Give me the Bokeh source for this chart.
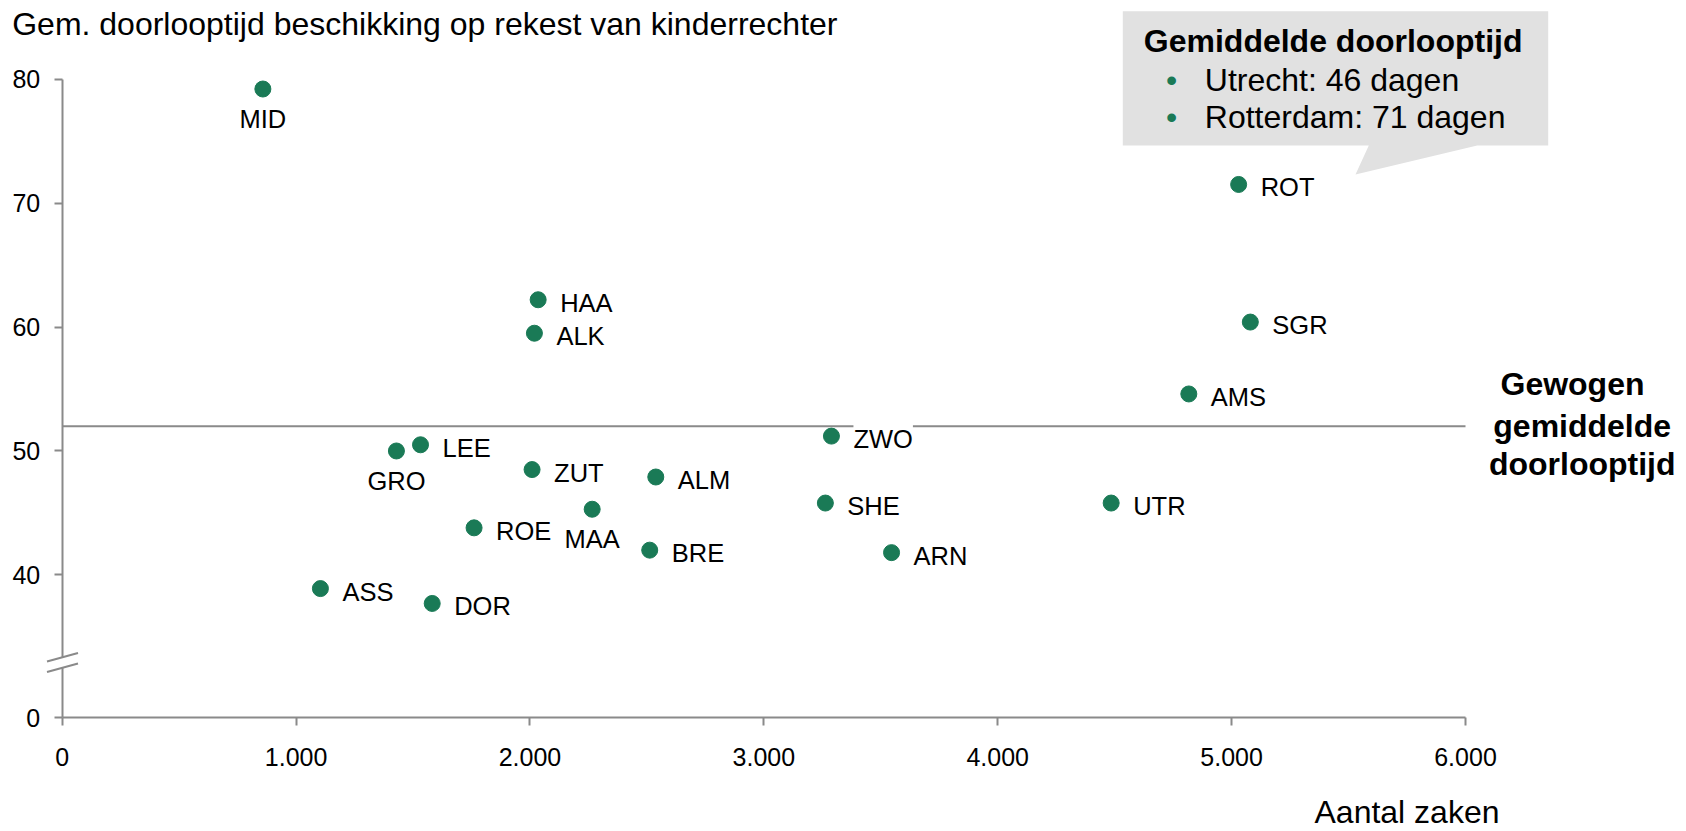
from bokeh.plotting import figure
from bokeh.models import (ColumnDataSource, LabelSet, Label, Range1d, FixedTicker,
                          CustomJSTickFormatter, PolyAnnotation, Arrow)
from bokeh.core.properties import value
from bokeh.embed import file_html
from bokeh.resources import INLINE

# ---------------- data ----------------
courts = ["MID", "ROT", "HAA", "ALK", "SGR", "AMS", "ZWO", "LEE", "GRO", "ZUT",
          "ALM", "MAA", "SHE", "UTR", "ROE", "BRE", "ARN", "ASS", "DOR"]
cases = [858, 5030, 2035, 2019, 5080, 4817, 3289, 1532, 1429, 2009,
         2538, 2266, 3263, 4485, 1761, 2512, 3546, 1104, 1582]
days = [79.2, 71.5, 62.2, 59.5, 60.4, 54.6, 51.2, 50.5, 50.0, 48.5,
        47.9, 45.3, 45.8, 45.8, 43.8, 42.0, 41.8, 38.9, 37.7]
weighted_avg = 52.0
x_ticks = [0, 1000, 2000, 3000, 4000, 5000, 6000]
y_ticks = [0, 40, 50, 60, 70, 80]

title_text = "Gem. doorlooptijd beschikking op rekest van kinderrechter"
x_title = "Aantal zaken"
avg_label_lines = ["Gewogen", "gemiddelde", "doorlooptijd"]
callout_title = "Gemiddelde doorlooptijd"
callout_items = ["Utrecht: 46 dagen", "Rotterdam: 71 dagen"]

# ---------------- style / layout ----------------
GREEN = "#1A7A56"
GRAY = "#8A8A8A"
FONT = "Liberation Sans"
BELOW = {"MID", "GRO", "MAA"}          # labels placed under their dot
X_MAX = 6000
Y_ZERO_POS = 28.5                      # broken axis: where "0" sits
Y_MAX = 80

W, H = 1686, 831
AX_L, AX_R, AX_T, AX_B = 61.7, 1465.0, 78.6, 717.0   # axis extents on the canvas
CAP = 11.5                                           # baseline -> cap centre for 32px text


def dx(px):  # canvas px -> data x
    return (px - AX_L) / (AX_R - AX_L) * X_MAX


def dy(py):  # canvas px -> data y
    return Y_MAX - (py - AX_T) / (AX_B - AX_T) * (Y_MAX - Y_ZERO_POS)


y_tick_pos = [Y_ZERO_POS if t == 0 else t for t in y_ticks]

p = figure(width=W, height=H, title=None,
           x_range=Range1d(dx(0), dx(W)), y_range=Range1d(dy(H), dy(0)),
           output_backend="svg", toolbar_location=None,
           min_border_left=0, min_border_right=0, min_border_top=0, min_border_bottom=0)
p.outline_line_color = None
p.grid.visible = False
p.background_fill_color = "white"
p.border_fill_color = "white"

xa, ya = p.xaxis[0], p.yaxis[0]
xa.fixed_location = Y_ZERO_POS
ya.fixed_location = 0
xa.bounds = (0, X_MAX)
ya.bounds = (Y_ZERO_POS, Y_MAX)
xa.ticker = FixedTicker(ticks=x_ticks)
ya.ticker = FixedTicker(ticks=y_tick_pos)
xa.formatter = CustomJSTickFormatter(code="return tick == 0 ? '0' : (tick/1000).toFixed(3);")
ya.formatter = CustomJSTickFormatter(args=dict(z=Y_ZERO_POS),
                                     code="return Math.abs(tick - z) < 1e-6 ? '0' : tick.toFixed(0);")
for ax in (xa, ya):
    ax.axis_line_color = GRAY
    ax.axis_line_width = 2
    ax.major_tick_line_color = GRAY
    ax.major_tick_line_width = 2
    ax.major_tick_out = 8
    ax.major_tick_in = 0
    ax.minor_tick_line_color = None
    ax.major_label_text_font = FONT
    ax.major_label_text_font_size = "25px"
    ax.major_label_text_color = "#000000"
xa.major_label_standoff = 22
ya.major_label_standoff = 14

# weighted average line (from the y axis to the end of the x axis)
p.segment(x0=[0], x1=[X_MAX], y0=[weighted_avg], y1=[weighted_avg], line_color=GRAY, line_width=2)

# points
src = ColumnDataSource(dict(x=cases, y=days, name=courts))
p.scatter("x", "y", source=src, size=16, color=GREEN, line_color=GREEN)

right_idx = [i for i, c in enumerate(courts) if c not in BELOW]
below_idx = [i for i, c in enumerate(courts) if c in BELOW]
src_r = ColumnDataSource(dict(x=[cases[i] for i in right_idx], y=[days[i] for i in right_idx],
                              name=[courts[i] for i in right_idx]))
src_b = ColumnDataSource(dict(x=[cases[i] for i in below_idx], y=[days[i] for i in below_idx],
                              name=[courts[i] for i in below_idx]))
p.add_layout(LabelSet(x="x", y="y", text="name", source=src_r, x_offset=22, y_offset=-3,
                      text_font=value(FONT), text_font_size=value("25.5px"), text_color="#000000",
                      text_align="left", text_baseline="middle",
                      background_fill_color="white"))
p.add_layout(LabelSet(x="x", y="y", text="name", source=src_b, x_offset=0, y_offset=-30,
                      text_font=value(FONT), text_font_size=value("25.5px"), text_color="#000000",
                      text_align="center", text_baseline="middle"))

# axis break marker on the y axis
p.add_layout(PolyAnnotation(xs=[dx(47), dx(78), dx(78), dx(47)],
                            ys=[dy(661), dy(652.5), dy(663), dy(671.5)],
                            fill_color="white", fill_alpha=1, line_color=None))
for (y0, y1) in ((661, 652.5), (671.5, 663)):
    p.add_layout(Arrow(end=None, x_start=dx(46.5), y_start=dy(y0), x_end=dx(77.5), y_end=dy(y1),
                       line_color=GRAY, line_width=2))

# callout box
p.add_layout(PolyAnnotation(
    xs=[dx(1122.3), dx(1547.7), dx(1547.7), dx(1476.7), dx(1355), dx(1368.3), dx(1122.3)],
    ys=[dy(10.7), dy(10.7), dy(145), dy(145), dy(174), dy(145), dy(145)],
    fill_color="#E1E1E1", fill_alpha=1, line_color=None))
p.add_layout(Label(x=dx(1143.3), y=dy(51.7 - CAP), text=callout_title, text_font=FONT,
                   text_font_size="32px", text_font_style="bold", text_color="#000000",
                   text_align="left", text_baseline="middle"))
for txt, base in zip(callout_items, (91, 128.3)):
    p.add_layout(Label(x=dx(1171), y=dy(base - CAP), text="\u2022", text_font=FONT,
                       text_font_size="32px", text_color=GREEN,
                       text_align="center", text_baseline="middle"))
    p.add_layout(Label(x=dx(1204.3), y=dy(base - CAP), text=txt, text_font=FONT,
                       text_font_size="32px", text_color="#000000",
                       text_align="left", text_baseline="middle"))

# texts
p.add_layout(Label(x=dx(11.7), y=dy(35 - CAP), text=title_text, text_font=FONT,
                   text_font_size="32px", text_color="#000000",
                   text_align="left", text_baseline="middle"))
p.add_layout(Label(x=dx(1499), y=dy(823 - CAP), text=x_title, text_font=FONT,
                   text_font_size="32px", text_color="#000000",
                   text_align="right", text_baseline="middle"))
for txt, cx, base in zip(avg_label_lines, (1572, 1581.7, 1581.7), (395, 436.7, 475)):
    p.add_layout(Label(x=dx(cx), y=dy(base - CAP), text=txt, text_font=FONT,
                       text_font_size="32px", text_font_style="bold", text_color="#000000",
                       text_align="center", text_baseline="middle"))

open("out.html", "w").write(file_html(p, INLINE))
